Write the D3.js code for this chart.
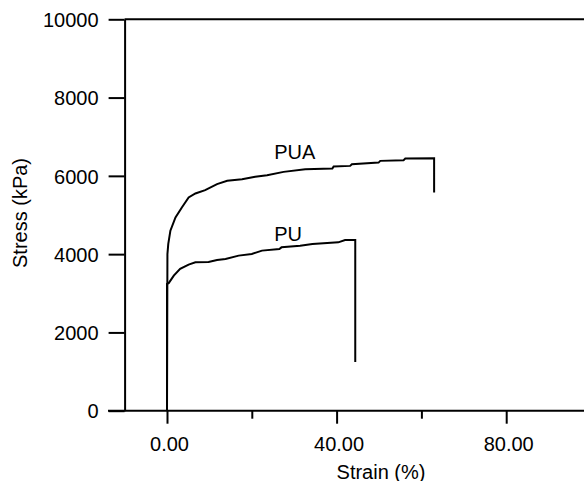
<!DOCTYPE html>
<html>
<head>
<meta charset="utf-8">
<script src="https://cdn.jsdelivr.net/npm/d3@7"></script>
<style>
  body { margin: 0; background: #fff; }
  svg { display: block; }
  text { font-family: "Liberation Sans", Arial, Helvetica, sans-serif; fill: #000; }
</style>
</head>
<body>
<div id="vis"></div>
<script>
// Data (strain %, stress kPa)
const puStrain  = [0, 0, 0.4, 1.6, 3.1, 5.1, 6.7, 9.8, 11.8, 13.8, 16.9, 20.0, 22.4, 26.5, 27.0, 31.4, 34.3, 40.4, 42.0, 44.4, 44.4];
const puStress  = [0, 3240, 3260, 3452, 3623, 3733, 3791, 3800, 3852, 3878, 3962, 4005, 4090, 4133, 4174, 4217, 4260, 4301, 4362, 4362, 1243];
const puaStrain = [0, 0.1, 0.3, 0.8, 2.0, 3.5, 5.1, 6.7, 9.0, 11.8, 14.2, 17.7, 20.8, 23.6, 27.5, 32.6, 39.0, 39.3, 43.2, 43.6, 49.9, 50.3, 55.8, 56.2, 63.0, 63.0];
const puaStress = [0, 4000, 4260, 4600, 4938, 5193, 5448, 5550, 5636, 5789, 5873, 5916, 5975, 6018, 6102, 6171, 6187, 6240, 6255, 6298, 6339, 6383, 6400, 6442, 6451, 5575];

const seriesNames = ['PU', 'PUA'];
const labelStrain = [25.3, 25.3];
const labelStress = [4330, 6420];

const xMajorTicks = [0, 40, 80];
const xMinorTicks = [20, 60];
const yTicks = [0, 2000, 4000, 6000, 8000, 10000];

const W = 584, H = 481;

const svg = d3.select('#vis')
    .append('svg')
    .attr('width', W)
    .attr('height', H);

const xScale = d3.scaleLinear().domain([-10, 100]).range([124.6, 591]);
const yScale = d3.scaleLinear().domain([0, 10000]).range([410.7, 19.3]);

// Top frame line
svg.append('line')
    .attr('x1', xScale(-10)).attr('x2', xScale(100))
    .attr('y1', yScale(10000)).attr('y2', yScale(10000))
    .attr('stroke', '#000').attr('stroke-width', 2);

// Y axis
const yAxis = svg.append('g')
    .attr('transform', `translate(${xScale(-10)},0)`)
    .call(d3.axisLeft(yScale).tickValues(yTicks).tickFormat(d3.format('d'))
        .tickSize(16).tickSizeOuter(0).tickPadding(10));
yAxis.select('.domain').attr('stroke-width', 2);
yAxis.selectAll('.tick line').attr('stroke-width', 2);
yAxis.selectAll('.tick text').attr('font-size', 20).attr('dy', '0.36em')
    .style('font-family', '"Liberation Sans", Arial, sans-serif');

// X axis (minor ticks first, then labelled major ticks)
const xBase = yScale(0);
const xMinor = svg.append('g')
    .attr('transform', `translate(0,${xBase})`)
    .call(d3.axisBottom(xScale).tickValues(xMinorTicks).tickFormat('').tickSize(8).tickSizeOuter(0));
xMinor.select('.domain').remove();
xMinor.selectAll('.tick line').attr('stroke-width', 2);

const xAxis = svg.append('g')
    .attr('transform', `translate(0,${xBase})`)
    .call(d3.axisBottom(xScale).tickValues(xMajorTicks).tickFormat(d3.format('.2f'))
        .tickSize(13).tickSizeOuter(0).tickPadding(13));
xAxis.select('.domain').remove();
xAxis.selectAll('.tick line').attr('stroke-width', 2);
xAxis.selectAll('.tick text').attr('font-size', 20).attr('dx', 2)
    .style('font-family', '"Liberation Sans", Arial, sans-serif');

svg.append('line')
    .attr('x1', 108).attr('x2', xScale(100))
    .attr('y1', xBase).attr('y2', xBase)
    .attr('stroke', '#000').attr('stroke-width', 2);

// Axis titles
svg.append('text')
    .attr('x', 381).attr('y', 479)
    .attr('text-anchor', 'middle')
    .attr('font-size', 20)
    .text('Strain (%)');

svg.append('text')
    .attr('transform', 'translate(27,213) rotate(-90)')
    .attr('text-anchor', 'middle')
    .attr('font-size', 20)
    .text('Stress (kPa)');

// Curves
const line = d3.line()
    .x(d => xScale(d[0]))
    .y(d => yScale(d[1]));

const curves = [
    d3.zip(puStrain, puStress),
    d3.zip(puaStrain, puaStress)
];

svg.selectAll('.curve')
    .data(curves)
    .join('path')
    .attr('class', 'curve')
    .attr('d', line)
    .attr('fill', 'none')
    .attr('stroke', '#000')
    .attr('stroke-width', 2)
    .attr('stroke-linejoin', 'miter');

svg.selectAll('.curveLabel')
    .data(seriesNames)
    .join('text')
    .attr('class', 'curveLabel')
    .attr('x', (d, i) => xScale(labelStrain[i]))
    .attr('y', (d, i) => yScale(labelStress[i]))
    .attr('font-size', 20)
    .text(d => d);
</script>
</body>
</html>
